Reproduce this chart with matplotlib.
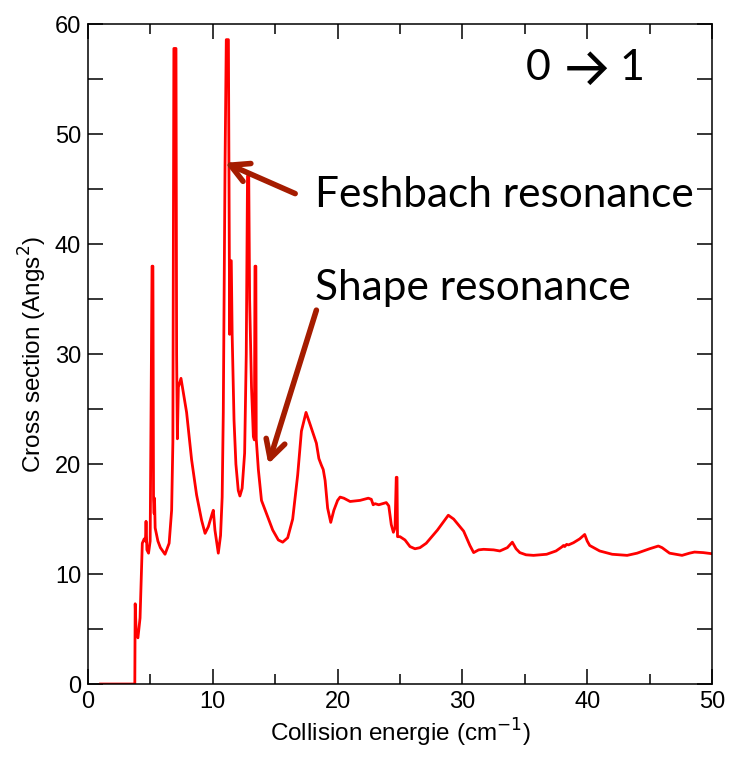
import matplotlib
matplotlib.use("Agg")
import matplotlib.pyplot as plt
from matplotlib.ticker import MultipleLocator

# === DATA ===
energy = [1.0, 3.75, 3.78, 3.85, 4.0, 4.17, 4.35, 4.5, 4.6, 4.65, 4.72, 4.85, 4.98,
          5.08, 5.13, 5.2, 5.25, 5.3, 5.33, 5.38, 5.6, 5.8, 6.17, 6.5, 6.7, 6.8,
          6.88, 7.05, 7.1, 7.16, 7.24, 7.45, 7.9, 8.3, 8.7, 9.1, 9.38, 9.64, 9.95,
          10.04, 10.17, 10.44, 10.62, 10.75, 10.84, 10.98, 11.08, 11.25, 11.35,
          11.42, 11.48, 11.55, 11.7, 11.85, 12.04, 12.17, 12.35, 12.55, 12.68,
          12.78, 12.88, 12.95, 13.1, 13.25, 13.33, 13.38, 13.45, 13.48, 13.65,
          13.9, 14.3, 14.8, 15.25, 15.6, 16.0, 16.4, 16.8, 17.1, 17.47, 17.8,
          18.3, 18.5, 18.7, 18.85, 19.0, 19.2, 19.45, 19.7, 20.0, 20.2, 20.5,
          21.0, 21.8, 22.46, 22.7, 22.85, 23.0, 23.3, 23.9, 24.1, 24.3, 24.47,
          24.6, 24.7, 24.76, 24.8, 25.0, 25.4, 25.8, 26.2, 26.6, 27.1, 28.0,
          28.87, 29.3, 30.1, 30.6, 30.9, 31.3, 31.7, 32.5, 33.0, 33.6, 34.0,
          34.3, 34.6, 35.1, 35.7, 36.75, 37.5, 37.95, 38.1, 38.2, 38.35, 38.5,
          38.9, 39.4, 39.8, 40.0, 40.2, 41.0, 42.0, 43.2, 44.0, 45.0, 45.7,
          46.0, 46.6, 47.6, 48.2, 48.6, 49.3, 50.0]
sigma = [0.0, 0.0, 7.3, 5.0, 4.2, 6.0, 12.8, 13.2, 13.0, 14.8, 12.2, 11.9, 13.0,
         30.0, 38.0, 38.0, 16.8, 15.5, 16.9, 14.2, 13.0, 12.4, 11.8, 12.8, 15.8, 22.0,
         57.8, 57.8, 30.0, 22.3, 27.0, 27.8, 24.7, 20.4, 17.2, 14.9, 13.7, 14.3, 15.5,
         15.8, 14.0, 11.9, 13.5, 17.0, 24.7, 47.2, 58.6, 58.6, 31.8,
         38.5, 38.5, 31.8, 24.0, 20.0, 17.6, 17.1, 17.8, 21.0, 30.0,
         46.2, 46.2, 35.0, 27.0, 22.5, 22.2, 38.0, 38.0, 22.3, 19.5,
         16.7, 15.5, 14.0, 13.1, 12.9, 13.3, 15.0, 19.0, 23.0, 24.7, 23.6,
         21.9, 20.5, 19.9, 19.5, 18.5, 16.0, 14.7, 15.8, 16.7, 17.0, 16.9,
         16.6, 16.7, 16.9, 16.8, 16.3, 16.4, 16.3, 16.5, 16.2, 14.5, 13.8,
         14.2, 18.8, 18.8, 13.4, 13.4, 13.1, 12.5, 12.3, 12.4, 12.8, 14.0,
         15.35, 15.0, 13.9, 12.6, 11.95, 12.2, 12.25, 12.2, 12.1, 12.4, 12.9,
         12.3, 11.95, 11.75, 11.7, 11.8, 12.1, 12.45, 12.6, 12.5, 12.7, 12.65,
         12.85, 13.2, 13.6, 13.0, 12.6, 12.1, 11.8, 11.7, 11.9, 12.3, 12.55,
         12.4, 11.9, 11.7, 11.9, 12.0, 11.95, 11.85]

feshbach_label = "Feshbach resonance"
shape_label = "Shape resonance"

tick_font = ["Liberation Sans Narrow", "Liberation Sans", "DejaVu Sans"]
text_font = ["Lato", "DejaVu Sans"]
arrow_color = "#a51c00"
arrow_style = "->, head_length=1.3, head_width=0.7"

fig = plt.figure(figsize=(7.31, 7.58), dpi=100)
ax = fig.add_axes([0.1204, 0.0976, 0.8536, 0.8704])

ax.plot(energy, sigma, color="red", linewidth=2.0)

ax.set_xlim(0, 50)
ax.set_ylim(0, 60)
ax.xaxis.set_major_locator(MultipleLocator(10))
ax.xaxis.set_minor_locator(MultipleLocator(5))
ax.yaxis.set_major_locator(MultipleLocator(10))
ax.yaxis.set_minor_locator(MultipleLocator(5))
ax.tick_params(which="both", direction="in", top=True, right=True, width=1.1)
ax.tick_params(which="major", length=11, labelsize=17, pad=5)
ax.tick_params(axis="x", which="minor", length=7)
ax.tick_params(axis="y", which="minor", length=11)
for lab in ax.get_xticklabels() + ax.get_yticklabels():
    lab.set_family(tick_font)
for sp in ax.spines.values():
    sp.set_linewidth(1.1)

ax.set_xlabel("Collision energie (cm$^{-1}$)", fontsize=17.5, family=tick_font, labelpad=3)
ax.set_ylabel("Cross section (Angs$^{2}$)", fontsize=17.5, family=tick_font, labelpad=4)

# "0 -> 1" label, the arrow is a drawn chevron arrow
ax.text(36.1, 56.0, "0", fontsize=31, family=text_font, ha="center", va="center")
ax.annotate("", xy=(41.6, 56.0), xytext=(38.4, 56.0),
            arrowprops=dict(arrowstyle="->, head_length=1.1, head_width=1.1",
                            color="black", lw=3.2, shrinkA=0, shrinkB=0,
                            joinstyle="miter", capstyle="butt"))
ax.text(43.6, 56.0, "1", fontsize=31, family=text_font, ha="center", va="center")

# resonance annotations
ax.text(18.2, 44.5, feshbach_label, fontsize=30.5, family=text_font, va="center")
ax.annotate("", xy=(10.98, 47.4), xytext=(16.6, 44.6),
            arrowprops=dict(arrowstyle=arrow_style, color=arrow_color, lw=4,
                            shrinkA=0, shrinkB=0))
ax.text(18.2, 36.0, shape_label, fontsize=30.5, family=text_font, va="center")
ax.annotate("", xy=(14.45, 20.0), xytext=(18.3, 34.0),
            arrowprops=dict(arrowstyle=arrow_style, color=arrow_color, lw=4,
                            shrinkA=0, shrinkB=0))

fig.savefig("out.png", dpi=100)
